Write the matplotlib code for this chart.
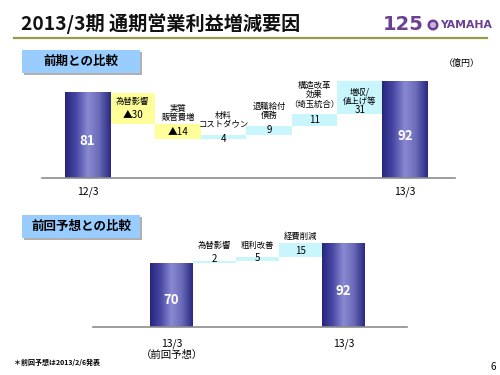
import matplotlib
matplotlib.use('Agg')
import matplotlib.pyplot as plt
import numpy as np
from matplotlib.colors import LinearSegmentedColormap
from matplotlib.patches import Rectangle, Circle

plt.rcParams['font.family'] = ['Noto Sans CJK JP', 'DejaVu Sans']

# --- data -------------------------------------------------------------
top_cats = ['12/3', '為替影響', '実質\n販管費増', '材料\nコストダウン', '退職給付\n債務',
            '構造改革\n効果\n（埼玉統合）', '増収/\n値上げ等', '13/3']
top_vals = [81, -30, -14, 4, 9, 11, 31, 92]
top_text = ['81', '▲30', '▲14', '4', '9', '11', '31', '92']

bot_cats = ['13/3\n（前回予想）', '為替影響', '粗利改善', '経費削減', '13/3']
bot_vals = [70, 2, 5, 15, 92]
bot_text = ['70', '2', '5', '15', '92']

# label layout (style only): where the step name / value sit
top_lab_y = [None, 72.5, 53, 46, 55, 66, 77, None]
top_lab_va = [None, 'center', 'bottom', 'bottom', 'bottom', 'bottom', 'center', None]
top_val_y = [None, 60, 44, 37.5, 45.5, 55.5, 64.5, None]
bot_lab_y = [None, 90, 90, 99, None]
bot_val_y = [None, 75, 76, 84, None]

bar_cmap = LinearSegmentedColormap.from_list(
    'bar', ['#26267e', '#4a4aa6', '#8a8ad2', '#6a6ab8', '#2a2a82'])
grad = np.linspace(0, 1, 64).reshape(1, -1)


def waterfall(ax, vals, texts):
    run = 0
    for i, v in enumerate(vals):
        if i == 0 or i == len(vals) - 1:
            ax.imshow(grad, extent=[i - 0.5, i + 0.5, 0, v], aspect='auto',
                      cmap=bar_cmap, zorder=2)
            ax.text(i, v * 0.43, texts[i], ha='center', va='center',
                    color='white', fontsize=9.5, fontweight='bold', zorder=3)
            run = v
        else:
            lo, hi = (run + v, run) if v < 0 else (run, run + v)
            color = '#ffff99' if v < 0 else '#c8f6fc'
            ax.bar(i, hi - lo, bottom=lo, width=1.0, color=color, zorder=1)
            run += v


fig = plt.figure(figsize=(5, 3.75), dpi=100)

# decorations layer in pixel coordinates
deco = fig.add_axes([0, 0, 1, 1])
deco.set_xlim(0, 500)
deco.set_ylim(375, 0)
deco.axis('off')
deco.text(21, 24, '2013/3期 通期営業利益増減要因', fontsize=13.8, fontweight='bold',
          va='center', ha='left', color='#111111')
deco.plot([14, 487], [37.5, 37.5], color='#9a9a4a', lw=1.6)
deco.text(403, 25, '125', fontsize=14, fontweight='heavy', color='#6b3f92',
          ha='center', va='center', family='DejaVu Sans')
deco.add_patch(Circle((433, 25), 5.5, facecolor='#6b3f92', edgecolor='none'))
deco.add_patch(Circle((433, 25), 3, facecolor='#c9b3dc', edgecolor='none'))
deco.text(440, 25.5, 'YAMAHA', fontsize=7.8, fontweight='bold', color='#6b3f92',
          ha='left', va='center', family='DejaVu Sans')
deco.text(462, 63, '（億円）', fontsize=6.5, ha='center', va='center')

for y0, label in [(50, '前期との比較'), (215, '前回予想との比較')]:
    deco.add_patch(Rectangle((24, y0 + 2), 118, 23, facecolor='#b0b0b0', edgecolor='none'))
    deco.add_patch(Rectangle((22, y0), 118, 23, facecolor='#99ccff', edgecolor='none'))
    deco.text(81, y0 + 11.5, label, fontsize=9, fontweight='bold', ha='center', va='center')

deco.text(14, 362, '＊前回予想は2013/2/6発表', fontsize=5, fontweight='bold',
          ha='left', va='center')
deco.text(493, 367, '6', fontsize=7, ha='center', va='center')

# --- top chart ---------------------------------------------------------
ax1 = fig.add_axes([0.084, 0.5253, 0.826, 0.3147])
ax1.patch.set_alpha(0)
waterfall(ax1, top_vals, top_text)
for i in range(1, len(top_vals) - 1):
    ax1.text(i, top_lab_y[i], top_cats[i], ha='center', va=top_lab_va[i],
             fontsize=6, linespacing=1.05, zorder=4)
    ax1.text(i, top_val_y[i], top_text[i], ha='center', va='center',
             fontsize=7, zorder=4)
ax1.set_xlim(-1.0, 8.1)
ax1.set_ylim(0, 112.4)
ax1.set_xticks([0, 7])
ax1.set_xticklabels([top_cats[0], top_cats[-1]], fontsize=7.5)
ax1.tick_params(length=0, pad=6)
ax1.set_yticks([])
for s in ['top', 'right', 'left']:
    ax1.spines[s].set_visible(False)
ax1.spines['bottom'].set_color('#8c8c8c')
ax1.spines['bottom'].set_linewidth(1.2)

# --- bottom chart ------------------------------------------------------
ax2 = fig.add_axes([0.186, 0.128, 0.628, 0.2853])
ax2.patch.set_alpha(0)
waterfall(ax2, bot_vals, bot_text)
for i in range(1, len(bot_vals) - 1):
    ax2.text(i, bot_lab_y[i], bot_cats[i], ha='center', va='center', fontsize=6, zorder=4)
    ax2.text(i, bot_val_y[i], bot_text[i], ha='center', va='center', fontsize=7, zorder=4)
ax2.set_xlim(-1.83, 5.48)
ax2.set_ylim(0, 117.6)
ax2.set_xticks([0, 4])
ax2.set_xticklabels([bot_cats[0], bot_cats[-1]], fontsize=7.5, linespacing=1.2)
ax2.tick_params(length=0, pad=8)
ax2.set_yticks([])
for s in ['top', 'right', 'left']:
    ax2.spines[s].set_visible(False)
ax2.spines['bottom'].set_color('#8c8c8c')
ax2.spines['bottom'].set_linewidth(1.2)

fig.savefig('out.png', dpi=100)
